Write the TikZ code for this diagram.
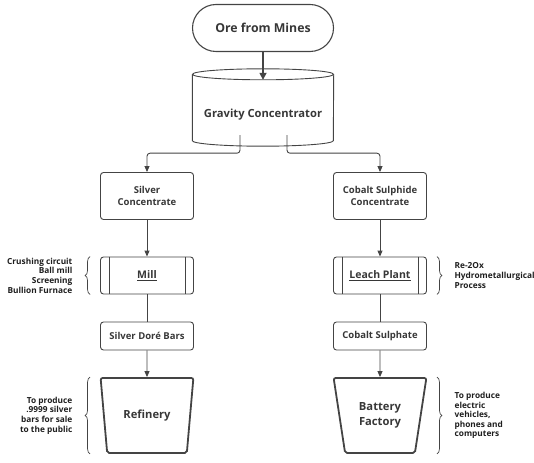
\documentclass[tikz,border=0pt]{standalone}
\usepackage{fontspec}
\setmainfont{Open Sans}
\usetikzlibrary{shapes.geometric,arrows.meta,decorations.pathreplacing}
\definecolor{flowink}{RGB}{55,55,55}
\definecolor{flowline}{RGB}{68,68,68}
\definecolor{noteink}{RGB}{30,30,30}

\begin{document}
\begin{tikzpicture}[x=1pt,y=-1pt]
    % Style definitions
    \tikzset{
      box/.style={draw=flowline, line width=0.9pt, rounded corners=3pt,
        minimum width=93pt, minimum height=47pt, align=center, text=flowink,
        font=\bfseries\fontsize{9.5}{12.5}\selectfont},
      slimbox/.style={box, minimum height=28pt},
      procbox/.style={box, minimum height=37pt,
        font=\bfseries\fontsize{10.5}{12.5}\selectfont},
      vat/.style={trapezium, draw=flowline, line width=1.8pt, rounded corners=2pt,
        shape border rotate=180, trapezium angle=76.1, trapezium stretches=true,
        minimum width=93pt, minimum height=75pt, align=center, text=flowink,
        font=\bfseries\fontsize{11.2}{15}\selectfont},
      link/.style={draw=flowline, line width=0.9pt},
      arr/.style={link, -{Triangle[length=6pt,width=5pt]}},
      note/.style={text=noteink, font=\bfseries\fontsize{8.3}{9.6}\selectfont},
      curly/.style={draw=flowline, line width=0.7pt, decorate,
        decoration={brace, amplitude=5pt}},
    }
    \useasboundingbox (0,0) rectangle (534,462);

    % Source and gravity step
    \node[draw=flowline, line width=1.1pt, rounded corners=23.5pt,
      minimum width=141pt, minimum height=47pt, text=flowink,
      font=\bfseries\fontsize{12.3}{14}\selectfont] (ore) at (263,28) {Ore from Mines};
    \node[minimum width=141pt, minimum height=55pt, text=flowink,
      font=\bfseries\fontsize{11.2}{14}\selectfont] (grav) at (263,107.5)
      {\raisebox{-10pt}[0pt][0pt]{Gravity Concentrator}};
    % cylinder outline round the gravity node
    \draw[link] ([yshift=5.5pt]grav.north) ellipse (70.5 and 5.5);
    \draw[link] ([yshift=5.5pt]grav.north west) -- ([yshift=-5.5pt]grav.south west)
      arc[start angle=180, end angle=0, x radius=70.5, y radius=5.5]
      -- ([yshift=5.5pt]grav.north east);

    % Two branches
    \node[box] (silver) at (147,196) {Silver\\Concentrate};
    \node[box] (cobalt) at (380,196) {Cobalt Sulphide\\Concentrate};
    \node[procbox] (mill) at (147,275.5) {\underline{Mill}};
    \node[procbox] (leach) at (380,275.5) {\underline{Leach Plant}};
    \node[slimbox] (dore) at (147,336) {Silver Doré Bars};
    \node[slimbox] (sulph) at (380,336) {Cobalt Sulphate};
    \node[vat] (refin) at (147,415.5) {Refinery};
    \node[vat] (batt) at (380,415.5) {Battery\\Factory};

    % inner bars of the process boxes
    \foreach \p in {mill,leach}{
      \draw[link] ([xshift=9pt]\p.north west) -- ([xshift=9pt]\p.south west);
      \draw[link] ([xshift=-9pt]\p.north east) -- ([xshift=-9pt]\p.south east);
    }

    % Connectors
    \draw[link, line width=1.6pt, -{Triangle[length=7pt,width=7pt]}] (ore) -- (grav.north);
    \draw[arr, rounded corners=3pt] ([xshift=-23pt]grav.south) -- ++(0,18) -| (silver.north);
    \draw[arr, rounded corners=3pt] ([xshift=24pt]grav.south) -- ++(0,18) -| (cobalt.north);
    \draw[arr] (silver) -- (mill);
    \draw[arr] (cobalt) -- (leach);
    \draw[link] (mill) -- (dore);
    \draw[link] (leach) -- (sulph);
    \draw[arr] (dore) -- (refin.north);
    \draw[arr] (sulph) -- (batt.north);

    % Side notes
    \draw[curly] ([xshift=-10pt]mill.south west) -- ([xshift=-10pt]mill.north west)
      node[midway, left=14pt, note, align=right]
      {Crushing circuit\\Ball mill\\Screening\\Bullion Furnace};
    \draw[curly] ([xshift=10pt]leach.north east) -- ([xshift=10pt]leach.south east)
      node[midway, right=14pt, note, align=left]
      {Re-2Ox\\Hydrometallurgical\\Process};
    \draw[curly] ([xshift=-10pt]refin.south -| mill.west) -- ([xshift=-10pt]refin.north -| mill.west)
      node[midway, left=14pt, note, align=right]
      {To produce\\.9999 silver\\bars for sale\\to the public};
    \draw[curly] ([xshift=10pt]batt.north -| leach.east) -- ([xshift=10pt]batt.south -| leach.east)
      node[midway, right=14pt, note, align=left]
      {To produce\\electric\\vehicles,\\phones and\\computers};
\end{tikzpicture}
\end{document}
